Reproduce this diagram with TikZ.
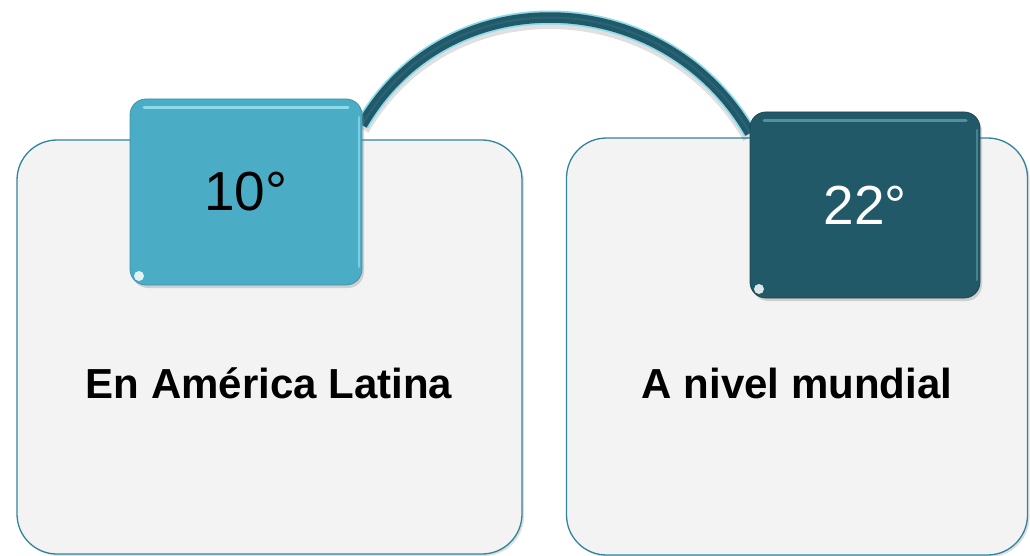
\documentclass[tikz,border=0pt]{standalone}
\usepackage{fontspec}
\setmainfont{Liberation Sans}
\usetikzlibrary{shadows}
\definecolor{panelfill}{HTML}{F3F3F3}
\definecolor{panelline}{HTML}{31849B}
\definecolor{aqua}{HTML}{4BACC6}
\definecolor{deepteal}{HTML}{215968}
\definecolor{lightaqua}{HTML}{9DE6F3}
\pgfdeclarelayer{bg}
\pgfdeclarelayer{arcs}
\pgfsetlayers{bg,arcs,main}
\begin{document}
\begin{tikzpicture}[x=1pt,y=-1pt,
  panel/.style={draw=panelline, line width=1.3pt, fill=panelfill, rounded corners=40pt,
    inner sep=0pt, outer sep=0pt,
    drop shadow={opacity=0.25, shadow xshift=2pt, shadow yshift=-2pt}},
  tab/.style={rounded corners=16pt, inner sep=0pt, outer sep=0pt,
    minimum height=186pt, font=\fontsize{55}{62}\selectfont,
    drop shadow={opacity=0.3, shadow xshift=2pt, shadow yshift=-3pt},
    path picture={
      \draw[#1, line width=3pt, line cap=round, opacity=0.8]
        ([xshift=14pt,yshift=-9pt]path picture bounding box.north west) --
        ([xshift=-14pt,yshift=-9pt]path picture bounding box.north east);
      \draw[#1, line width=2pt, line cap=round, opacity=0.6]
        ([xshift=-3pt,yshift=-18pt]path picture bounding box.north east) --
        ([xshift=-3pt,yshift=18pt]path picture bounding box.south east);
      \fill[white, opacity=0.85]
        ([xshift=9pt,yshift=9pt]path picture bounding box.south west) circle (5pt);
    }},
  label/.style={font=\fontsize{42}{50}\selectfont\bfseries, text=black},
  arcouter/.style={draw=lightaqua!80!aqua, line width=14pt},
  arcinner/.style={draw=deepteal, line width=10.5pt},
  arcshine/.style={draw=deepteal!75!aqua, line width=2pt, opacity=0.6},
  arcshadow/.style={draw=black, opacity=0.12, line width=15pt}
]
\useasboundingbox (0,0) rectangle (1030,556);

\begin{pgfonlayer}{bg}
\node[panel, minimum width=505pt, minimum height=414pt] (pL) at (269.5,347) {};
\node[panel, minimum width=461pt, minimum height=417pt] (pR) at (797,346.5) {};
\end{pgfonlayer}

\node[label] (tL) at (269,383) {En América Latina};
\node[label] (tR) at (797,383) {A nivel mundial};

\node[tab=lightaqua, fill=aqua, draw=aqua!85!black, line width=0.8pt, text=black,
  minimum width=232pt] (kL) at (246,192) {10°};
\node[tab=deepteal!50!lightaqua, fill=deepteal, draw=deepteal!80!black, line width=0.8pt, text=white,
  minimum width=230pt] (kR) at (865,205) {22°};

\begin{pgfonlayer}{arcs}
\draw[arcshadow] ([yshift=-4pt]kL.30) to[out=60,in=120,looseness=1.13] ([yshift=-4pt]kR.148);
\draw[arcouter] (kL.30) to[out=60,in=120,looseness=1.13] (kR.148);
\draw[arcinner] (kL.30) to[out=60,in=120,looseness=1.13] (kR.148);
\draw[arcshine] (kL.30) to[out=60,in=120,looseness=1.13] (kR.148);
\end{pgfonlayer}
\end{tikzpicture}
\end{document}
